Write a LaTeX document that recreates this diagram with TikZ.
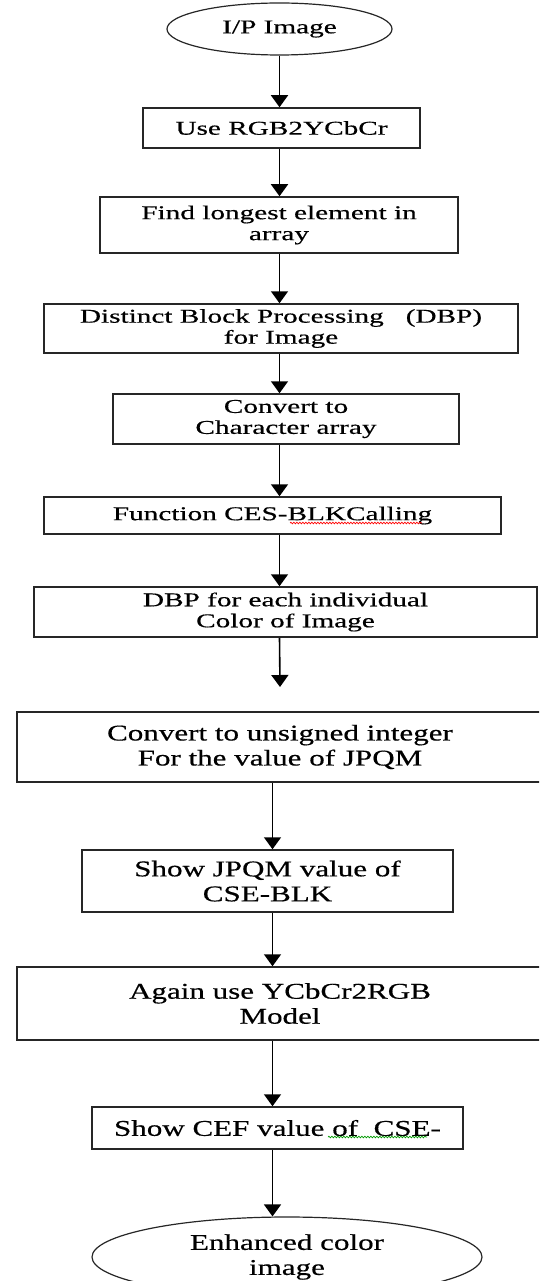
\documentclass[tikz,border=0pt]{standalone}
\usepackage{fontspec}
\setmainfont{Liberation Serif}
\newfontfamily\upfont{Liberation Serif}[FakeStretch=1.5, FakeBold=0.5]
\newfontfamily\lowfont{Liberation Serif}[FakeStretch=1.38, FakeBold=0.5]
\usetikzlibrary{arrows.meta,shapes,decorations.pathmorphing}
\tikzset{>={Triangle[width=17pt,length=12pt]}}
\tikzset{
    box/.style={draw=black!85, line width=1.5pt, rectangle, inner sep=0pt, align=center},
    term/.style={draw=black!85, line width=1.2pt, ellipse, inner sep=0pt, align=center},
    uptext/.style={font=\upfont\fontsize{19.5}{21}\selectfont},
    lowtext/.style={font=\lowfont\fontsize{22.5}{25}\selectfont},
    flow/.style={->, line width=1.6pt, black},
    squiggle/.style={decorate, decoration={snake, amplitude=0.8pt, segment length=3pt}, line width=0.7pt}
}

\begin{document}
\begin{tikzpicture}[x=1pt, y=-1pt]
    \useasboundingbox (0,0) rectangle (539,1281);
    \clip (0,0) rectangle (539,1281);

    \node[term, uptext, minimum width=225, minimum height=52] (img) at (279.5,29) {I/P Image};
    \node[box, uptext, minimum width=277, minimum height=40] (rgb) at (281.5,128) {Use RGB2YCbCr};
    \node[box, uptext, minimum width=358, minimum height=56] (longest) at (279,225) {Find longest element in\\array};
    \node[box, uptext, minimum width=474, minimum height=49] (dbp) at (281,328.5) {Distinct Block Processing\ \ \ (DBP)\\for Image};
    \node[box, uptext, minimum width=346, minimum height=50] (chars) at (286,419) {Convert to\\Character array};
    \node[box, uptext, minimum width=457, minimum height=37] (func) at (272.5,515.5) {Function CES-BLKCalling};
    \node[box, uptext, minimum width=503, minimum height=50] (dbpcol) at (285.5,612) {DBP for each individual\\Color of Image};

    \node[box, lowtext, minimum width=526, minimum height=70] (uint) at (280,747) {Convert to unsigned integer\\For the value of JPQM};
    \node[box, lowtext, minimum width=371, minimum height=62] (jpqm) at (267.5,881) {Show JPQM value of\\CSE-BLK};
    \node[box, lowtext, minimum width=526, minimum height=73] (ycbcr) at (280,1003.5) {Again use YCbCr2RGB\\Model};
    \node[box, lowtext, minimum width=371, minimum height=42] (cef) at (277.5,1128) {Show CEF value of\ \ CSE-};
    \node[term, lowtext, minimum width=390, minimum height=80] (out) at (287,1257) {Enhanced color\\image};

    % spell-check marks
    \draw[squiggle, red] (290,523) -- (422,523);
    \draw[squiggle, green!60!black] (328,1137) -- (427,1137);

    \coordinate (gap) at (280,687);
    \coordinate (col) at (272.5,0);

    \draw[flow] (img.south) -- (img.south |- rgb.north);
    \draw[flow] (rgb.south -| img.south) -- (longest.north -| img.south);
    \draw[flow] (longest.south -| img.south) -- (dbp.north -| img.south);
    \draw[flow] (dbp.south -| img.south) -- (chars.north -| img.south);
    \draw[flow] (chars.south -| img.south) -- (func.north -| img.south);
    \draw[flow] (func.south -| img.south) -- (dbpcol.north -| img.south);
    \draw[flow] (dbpcol.south -| img.south) -- (gap);

    \draw[flow] (uint.south -| col) -- (jpqm.north -| col);
    \draw[flow] (jpqm.south -| col) -- (ycbcr.north -| col);
    \draw[flow] (ycbcr.south -| col) -- (cef.north -| col);
    \draw[flow] (cef.south -| col) -- (out.north -| col);
\end{tikzpicture}
\end{document}
